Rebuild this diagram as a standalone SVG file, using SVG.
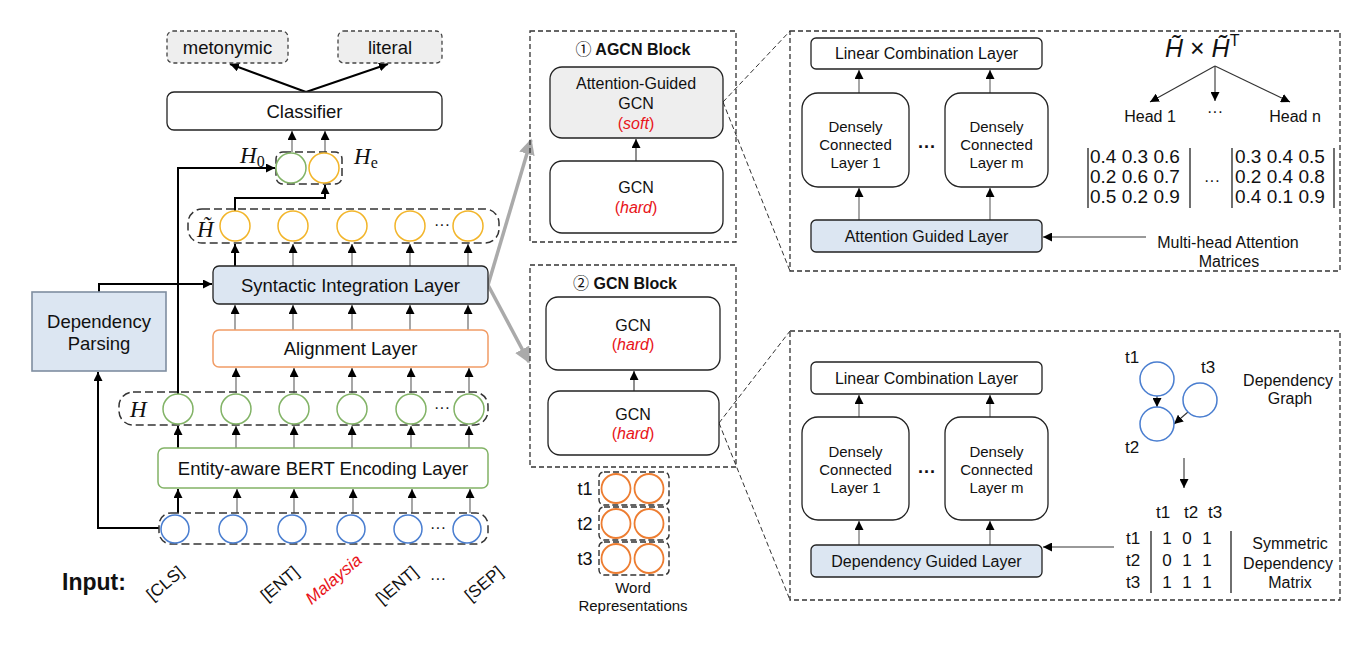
<svg xmlns="http://www.w3.org/2000/svg" width="1356" height="650" viewBox="0 0 1356 650">
<style>
text{font-family:"Liberation Sans",Arial,sans-serif;fill:#111}
.c{text-anchor:middle}
.f18{font-size:18.5px}
.f16{font-size:16px}
.f15{font-size:15px}
.f17{font-size:17px}
.math{font-family:"Liberation Serif","Times New Roman",serif;font-style:italic}
.red{fill:#e8141a}
.it{font-style:italic}
.box{fill:#fff;stroke:#222;stroke-width:1.3}
.blue{fill:#dce6f2;stroke:#222;stroke-width:1.3}
.out{fill:#eeeeee;stroke:#444;stroke-width:1.3;stroke-dasharray:4 3}
.dash{fill:none;stroke:#333;stroke-width:1.5;stroke-dasharray:8 4}
.dsm{fill:none;stroke:#333;stroke-width:1.4;stroke-dasharray:6 3}
.panel{fill:none;stroke:#333;stroke-width:1.3;stroke-dasharray:5 3}
.cg{fill:#fff;stroke:#82b366;stroke-width:1.5}
.cy{fill:#fff;stroke:#f2b52a;stroke-width:1.5}
.cb{fill:#fff;stroke:#4a7ed0;stroke-width:1.5}
.co{fill:#fff;stroke:#ed7d31;stroke-width:1.8}
.thin{fill:none;stroke:#777;stroke-width:1.3;marker-end:url(#ah)}
.dk{fill:none;stroke:#333;stroke-width:1.1;marker-end:url(#ah)}
.thick{fill:none;stroke:#000;stroke-width:2;marker-end:url(#ah)}
.big{fill:none;stroke:#aaa;stroke-width:3.5;marker-end:url(#ahg)}
.zoom{fill:none;stroke:#333;stroke-width:1;stroke-dasharray:5 3}
.bar{stroke:#222;stroke-width:1.3}
</style>
<defs>
<marker id="ah" viewBox="0 0 10 10" refX="10" refY="5" markerWidth="9" markerHeight="9" markerUnits="userSpaceOnUse" orient="auto"><path d="M0,0 L10,5 L0,10 z" fill="#000"/></marker>
<marker id="ahg" viewBox="0 0 10 10" refX="9" refY="5" markerWidth="16" markerHeight="16" markerUnits="userSpaceOnUse" orient="auto"><path d="M0,0 L10,5 L0,10 z" fill="#aaa"/></marker>
</defs>

<g id="connectors">
<path class="thick" d="M306,92 L230,64"/>
<path class="thick" d="M306,92 L388,64"/>
<path class="thin" d="M292,152 V131"/>
<path class="thin" d="M325,152 V131"/>
<path class="thick" d="M235,211 V198 H325 V185"/>
<path class="thick" d="M178,394 V168 H275"/>
<path class="thick" d="M235,266 V244"/>
<path class="thin" d="M293,266 V244"/>
<path class="thin" d="M352,266 V244"/>
<path class="thin" d="M410,266 V244"/>
<path class="thin" d="M468,266 V244"/>
<path class="thin" d="M235,330 V305"/>
<path class="thin" d="M293,330 V305"/>
<path class="thin" d="M352,330 V305"/>
<path class="thin" d="M410,330 V305"/>
<path class="thin" d="M468,330 V305"/>
<path class="thin" d="M236,393 V368"/>
<path class="thin" d="M294,393 V368"/>
<path class="thin" d="M352,393 V368"/>
<path class="thin" d="M411,393 V368"/>
<path class="thin" d="M469,393 V368"/>
<path class="thick" d="M178,448 V426"/>
<path class="thin" d="M236,448 V426"/>
<path class="thin" d="M294,448 V426"/>
<path class="thin" d="M352,448 V426"/>
<path class="thin" d="M411,448 V426"/>
<path class="thin" d="M469,448 V426"/>
<path class="thick" d="M178,513 V489"/>
<path class="thin" d="M237,513 V489"/>
<path class="thin" d="M294,513 V489"/>
<path class="thin" d="M353,513 V489"/>
<path class="thin" d="M412,513 V489"/>
<path class="thin" d="M470,513 V489"/>
<path class="thick" d="M159,528 H98 V372"/>
<path class="thick" d="M99,292 V284 H212"/>
<path class="big" d="M488,285 L531,140"/>
<path class="big" d="M488,285 L529,362"/>
<path class="dk" d="M636,161 V139"/>
<path class="dk" d="M634,391 V371"/>
<path class="zoom" d="M723,102 L790,31"/>
<path class="zoom" d="M723,102 L790,271"/>
<path class="zoom" d="M719,423 L790,331"/>
<path class="zoom" d="M719,423 L790,600"/>
<path class="thin" d="M859,220 V188"/>
<path class="thin" d="M990,220 V188"/>
<path class="thin" d="M859,93 V70"/>
<path class="thin" d="M990,93 V70"/>
<path class="thin" d="M1146,237 H1043"/>
<path class="dk" d="M1215,66 L1150,102"/>
<path class="dk" d="M1215,66 V101"/>
<path class="dk" d="M1215,66 L1290,102"/>
<path class="thin" d="M859,545 V521"/>
<path class="thin" d="M990,545 V521"/>
<path class="thin" d="M859,417 V395"/>
<path class="thin" d="M990,417 V395"/>
<path class="thin" d="M1114,547 H1043"/>
<path class="dk" d="M1157,396 V407"/>
<path class="dk" d="M1188,412 L1174,424"/>
<path class="dk" d="M1184,458 V488"/>
</g>

<g id="out-metonymic"><rect class="out" x="167" y="31" width="121" height="32" rx="6"/><text class="c f18" x="227.5" y="54">metonymic</text></g>
<g id="out-literal"><rect class="out" x="338" y="31" width="104" height="32" rx="6"/><text class="c f18" x="390" y="54">literal</text></g>
<g id="classifier"><rect class="box" x="167" y="92" width="275" height="38" rx="7"/><text class="c f18" x="304.5" y="118">Classifier</text></g>

<g id="h0-he">
<rect class="dash" x="276" y="152" width="66" height="32" rx="7"/>
<circle class="cg" cx="291" cy="168" r="15"/>
<circle class="cy" cx="324" cy="168" r="15"/>
<text class="math" x="240" y="163" font-size="23">H<tspan font-style="normal" font-size="16" dy="4">0</tspan></text>
<text class="math" x="354" y="164" font-size="23">H<tspan font-style="normal" font-size="16" dy="4">e</tspan></text>
</g>

<g id="h-tilde-row">
<rect class="dash" x="188" y="209" width="311" height="34" rx="14"/>
<circle class="cy" cx="235" cy="226" r="15"/>
<circle class="cy" cx="293" cy="226" r="15"/>
<circle class="cy" cx="352" cy="226" r="15"/>
<circle class="cy" cx="410" cy="226" r="15"/>
<circle class="cy" cx="468" cy="226" r="15"/>
<text class="c f16" x="442" y="230">···</text>
<text class="math" x="197" y="237" font-size="23">H̃</text>
</g>

<g id="syntactic"><rect class="blue" x="213" y="266" width="275" height="38" rx="6"/><text class="c f18" x="350.5" y="292">Syntactic Integration Layer</text></g>
<g id="alignment"><rect x="213" y="330" width="275" height="37" rx="6" fill="#fff" stroke="#f19c65" stroke-width="1.5"/><text class="c f18" x="350.5" y="355">Alignment Layer</text></g>

<g id="h-row">
<rect class="dash" x="119" y="392" width="369" height="33" rx="14"/>
<circle class="cg" cx="178" cy="409" r="15"/>
<circle class="cg" cx="236" cy="409" r="15"/>
<circle class="cg" cx="294" cy="409" r="15"/>
<circle class="cg" cx="352" cy="409" r="15"/>
<circle class="cg" cx="411" cy="409" r="15"/>
<circle class="cg" cx="469" cy="409" r="15"/>
<text class="c f16" x="442" y="413">···</text>
<text class="math" x="130" y="417" font-size="23">H</text>
</g>

<g id="bert"><rect x="158" y="448" width="330" height="40" rx="6" fill="#fff" stroke="#82b366" stroke-width="1.5"/><text class="c f18" x="323" y="475">Entity-aware BERT Encoding Layer</text></g>

<g id="input-row">
<rect class="dash" x="159" y="513" width="329" height="31" rx="12"/>
<circle class="cb" cx="175" cy="529" r="14"/>
<circle class="cb" cx="233" cy="529" r="14"/>
<circle class="cb" cx="292" cy="529" r="14"/>
<circle class="cb" cx="351" cy="529" r="14"/>
<circle class="cb" cx="408" cy="529" r="14"/>
<circle class="cb" cx="467" cy="529" r="14"/>
<text class="c f16" x="438" y="533">···</text>
</g>

<g id="dep-parsing"><rect x="32" y="292" width="134" height="79" fill="#dce6f2" stroke="#7f8ea0" stroke-width="1.6"/><text class="c f18" x="99" y="328">Dependency</text><text class="c f18" x="99" y="350">Parsing</text></g>

<g id="input-labels">
<text x="62" y="590" font-size="23" font-weight="bold">Input:</text>
<text class="f17" text-anchor="end" transform="translate(185,574) rotate(-40)">[CLS]</text>
<text class="f17" text-anchor="end" transform="translate(300,574) rotate(-40)">[ENT]</text>
<text class="f17 red it" text-anchor="end" transform="translate(363,562) rotate(-40)">Malaysia</text>
<text class="f17" text-anchor="end" transform="translate(419,574) rotate(-40)">[\ENT]</text>
<text class="c f16" x="438" y="584">···</text>
<text class="f17" text-anchor="end" transform="translate(504,574) rotate(-40)">[SEP]</text>
</g>

<g id="agcn-block">
<rect class="panel" x="530" y="31" width="206" height="211"/>
<text class="c f16" x="633" y="55"><tspan font-family="'Noto Sans CJK SC','DejaVu Sans',sans-serif">①</tspan><tspan font-weight="bold"> AGCN Block</tspan></text>
<rect x="550" y="67" width="173" height="71" rx="12" fill="#eeeeee" stroke="#222" stroke-width="1.3"/>
<text class="c f16" x="636" y="89">Attention-Guided</text>
<text class="c f16" x="636" y="109">GCN</text>
<text class="c f16 red" x="636" y="129">(<tspan class="it">soft</tspan>)</text>
<rect class="box" x="550" y="161" width="173" height="72" rx="12"/>
<text class="c f16" x="636" y="193">GCN</text>
<text class="c f16 red" x="636" y="213">(<tspan class="it">hard</tspan>)</text>
</g>

<g id="gcn-block">
<rect class="panel" x="530" y="265" width="206" height="202"/>
<text class="c f16" x="625" y="289"><tspan font-family="'Noto Sans CJK SC','DejaVu Sans',sans-serif">②</tspan><tspan font-weight="bold"> GCN Block</tspan></text>
<rect class="box" x="546" y="297" width="174" height="73" rx="12"/>
<text class="c f16" x="633" y="331">GCN</text>
<text class="c f16 red" x="633" y="350">(<tspan class="it">hard</tspan>)</text>
<rect class="box" x="548" y="391" width="171" height="64" rx="12"/>
<text class="c f16" x="633" y="420">GCN</text>
<text class="c f16 red" x="633" y="439">(<tspan class="it">hard</tspan>)</text>
</g>

<g id="word-reps">
<rect class="dsm" x="599" y="472" width="70" height="33" rx="5"/>
<rect class="dsm" x="599" y="507" width="70" height="33" rx="5"/>
<rect class="dsm" x="599" y="542" width="70" height="33" rx="5"/>
<circle class="co" cx="616" cy="488.5" r="14.5"/><circle class="co" cx="649" cy="488.5" r="14.5"/>
<circle class="co" cx="616" cy="523.5" r="14.5"/><circle class="co" cx="649" cy="523.5" r="14.5"/>
<circle class="co" cx="616" cy="558.5" r="14.5"/><circle class="co" cx="649" cy="558.5" r="14.5"/>
<text class="c" font-size="18" x="585" y="495">t1</text>
<text class="c" font-size="18" x="585" y="530">t2</text>
<text class="c" font-size="18" x="585" y="565">t3</text>
<text class="c f15" x="633" y="593">Word</text>
<text class="c f15" x="633" y="611">Representations</text>
</g>

<g id="agcn-detail">
<rect class="panel" x="790" y="31" width="550" height="240"/>
<rect class="box" x="811" y="38" width="231" height="31" rx="5"/>
<text class="c f16" x="926.5" y="59">Linear Combination Layer</text>
<rect class="box" x="802" y="93" width="107" height="94" rx="16"/>
<text class="c f15" x="855.5" y="132">Densely</text><text class="c f15" x="855.5" y="150">Connected</text><text class="c f15" x="855.5" y="168">Layer 1</text>
<rect class="box" x="945" y="93" width="103" height="94" rx="16"/>
<text class="c f15" x="996.5" y="132">Densely</text><text class="c f15" x="996.5" y="150">Connected</text><text class="c f15" x="996.5" y="168">Layer m</text>
<text class="c" x="927" y="153" font-size="18" font-weight="bold">···</text>
<rect class="blue" x="811" y="220" width="231" height="32" rx="5"/>
<text class="c f16" x="926.5" y="242">Attention Guided Layer</text>
<text x="1165" y="57" font-size="25" font-family="Liberation Serif,serif"><tspan font-style="italic">H̃</tspan> × <tspan font-style="italic">H̃</tspan><tspan font-family="Liberation Sans,sans-serif" font-size="16" dy="-11">T</tspan></text>
<text class="c f16" x="1150" y="122">Head 1</text>
<text class="c f16" x="1215" y="117">···</text>
<text class="c f16" x="1295" y="122">Head n</text>
<line class="bar" x1="1088" y1="148" x2="1088" y2="208"/><line class="bar" x1="1190" y1="148" x2="1190" y2="208"/>
<text x="1090" y="163" font-size="19">0.4 0.3 0.6</text>
<text x="1090" y="183" font-size="19">0.2 0.6 0.7</text>
<text x="1090" y="203" font-size="19">0.5 0.2 0.9</text>
<text class="c f16" x="1212" y="186">···</text>
<line class="bar" x1="1232" y1="148" x2="1232" y2="208"/><line class="bar" x1="1334" y1="148" x2="1334" y2="208"/>
<text x="1235" y="163" font-size="19">0.3 0.4 0.5</text>
<text x="1235" y="183" font-size="19">0.2 0.4 0.8</text>
<text x="1235" y="203" font-size="19">0.4 0.1 0.9</text>
<text class="c f16" x="1228" y="248">Multi-head Attention</text>
<text class="c f16" x="1229" y="267">Matrices</text>
</g>

<g id="gcn-detail">
<rect class="panel" x="790" y="331" width="550" height="269"/>
<rect class="box" x="811" y="362" width="231" height="32" rx="5"/>
<text class="c f16" x="926.5" y="384">Linear Combination Layer</text>
<rect class="box" x="802" y="417" width="107" height="103" rx="16"/>
<text class="c f15" x="855.5" y="457">Densely</text><text class="c f15" x="855.5" y="475">Connected</text><text class="c f15" x="855.5" y="493">Layer 1</text>
<rect class="box" x="945" y="417" width="103" height="103" rx="16"/>
<text class="c f15" x="996.5" y="457">Densely</text><text class="c f15" x="996.5" y="475">Connected</text><text class="c f15" x="996.5" y="493">Layer m</text>
<text class="c" x="927" y="478" font-size="18" font-weight="bold">···</text>
<rect class="blue" x="811" y="545" width="231" height="32" rx="5"/>
<text class="c f16" x="926.5" y="567">Dependency Guided Layer</text>
<circle class="cb" cx="1157" cy="379" r="17"/>
<circle class="cb" cx="1200" cy="400" r="17"/>
<circle class="cb" cx="1157" cy="424" r="17"/>
<text class="c f17" x="1132" y="363">t1</text>
<text class="c f17" x="1208" y="373">t3</text>
<text class="c f17" x="1132" y="453">t2</text>
<text class="c f16" x="1288" y="386">Dependency</text>
<text class="c f16" x="1290" y="404">Graph</text>
<text class="c f17" x="1163" y="518">t1</text><text class="c f17" x="1191" y="518">t2</text><text class="c f17" x="1215" y="518">t3</text>
<text class="c f17" x="1133" y="544">t1</text><text class="c f17" x="1133" y="566">t2</text><text class="c f17" x="1133" y="588">t3</text>
<line class="bar" x1="1151" y1="531" x2="1151" y2="593"/><line class="bar" x1="1231" y1="531" x2="1231" y2="593"/>
<text class="c f17" x="1167" y="544">1</text><text class="c f17" x="1187" y="544">0</text><text class="c f17" x="1207" y="544">1</text>
<text class="c f17" x="1167" y="566">0</text><text class="c f17" x="1187" y="566">1</text><text class="c f17" x="1207" y="566">1</text>
<text class="c f17" x="1167" y="588">1</text><text class="c f17" x="1187" y="588">1</text><text class="c f17" x="1207" y="588">1</text>
<text class="c f16" x="1290" y="549">Symmetric</text>
<text class="c f16" x="1288" y="569">Dependency</text>
<text class="c f16" x="1290" y="588">Matrix</text>
</g>
</svg>
